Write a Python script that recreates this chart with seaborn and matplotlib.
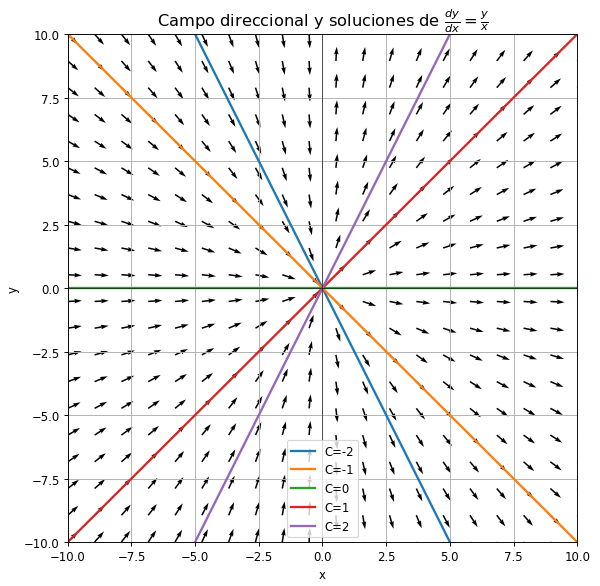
import matplotlib
matplotlib.use("Agg")
import matplotlib.pyplot as plt
import numpy as np
import pandas as pd
import seaborn as sns

# direction field grid and solution constants
grid_min, grid_max, grid_n = -10, 10, 20
c_values = [-2, -1, 0, 1, 2]
c_labels = ["C=-2", "C=-1", "C=0", "C=1", "C=2"]
line_colors = ["#1f77b4", "#ff7f0e", "#2ca02c", "#d62728", "#9467bd"]

xs = np.linspace(grid_min, grid_max, grid_n)
X, Y = np.meshgrid(xs, xs)
U = np.ones_like(X)
V = Y / X
N = np.sqrt(U ** 2 + V ** 2)
U, V = U / N, V / N

x_line = np.linspace(grid_min, grid_max, 400)
df = pd.concat(
    [pd.DataFrame({"x": x_line, "y": c * x_line, "C": lab}) for c, lab in zip(c_values, c_labels)],
    ignore_index=True,
)

# drawn at a larger size and saved at a lower dpi -> 600x587 px
fig, ax = plt.subplots(figsize=(7.2, 7.044))
fig.subplots_adjust(left=0.113, right=0.962, top=0.940, bottom=0.075)

ax.quiver(X, Y, U, V, color="black")
sns.lineplot(data=df, x="x", y="y", hue="C", hue_order=c_labels,
             palette=line_colors, linewidth=2, ax=ax, sort=False, estimator=None)

ax.axhline(0, color="black", linewidth=0.5)
ax.axvline(0, color="black", linewidth=0.5)
ax.set_xlim(-10, 10)
ax.set_ylim(-10, 10)
ax.grid(True)
ax.set_xlabel("x")
ax.set_ylabel("y")
ax.set_title(r"Campo direccional y soluciones de $\frac{dy}{dx} = \frac{y}{x}$", fontsize=14)
ax.legend(loc="lower center", borderaxespad=0.4)

fig.savefig("out.png", dpi=600 / 7.2)
